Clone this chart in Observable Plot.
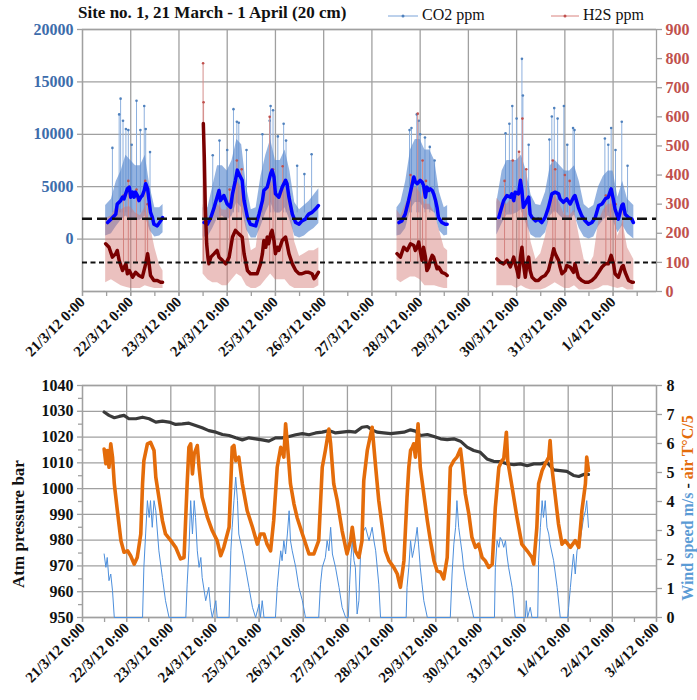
<!DOCTYPE html>
<html><head><meta charset="utf-8">
<script src="https://cdn.jsdelivr.net/npm/d3@7"></script>
<script src="https://cdn.jsdelivr.net/npm/@observablehq/plot@0.6"></script>
<style>
body{margin:0;background:#fff;}
#wrap{position:relative;width:697px;height:700px;font-family:'Liberation Serif',serif;overflow:hidden;background:#fff;}
#wrap svg, #wrap svg text{font-family:'Liberation Serif',serif !important;}
.t{position:absolute;white-space:nowrap;color:#111;}
</style></head><body><div id="wrap"></div>
<script>
// ---- DATA (time = days after 21/3/2012 0:00) ----
const co2Ticks = [0, 5000, 10000, 15000, 20000];
const h2sTicks = [0, 100, 200, 300, 400, 500, 600, 700, 800, 900];
const presTicks = [950, 960, 970, 980, 990, 1000, 1010, 1020, 1030, 1040];
const rightTicks = [0, 1, 2, 3, 4, 5, 6, 7, 8];
const h2sThresholds = [250, 100];

const co2Smooth = [
 [[0.52,1580],[0.59,1900],[0.66,2220],[0.69,2380],[0.72,3350],[0.79,3670],[0.83,4000],[0.86,3840],[0.93,4800],[0.97,4960],[1.00,4000],[1.04,4480],[1.07,4000],[1.10,4480],[1.14,4160],[1.17,3670],[1.21,4000],[1.24,4160],[1.28,4640],[1.31,5290],[1.35,4800],[1.38,3670],[1.41,2550],[1.45,2060],[1.48,1420],[1.55,1260],[1.62,1740],[1.66,2060]],
 [[2.52,1580],[2.59,1420],[2.66,2060],[2.73,3030],[2.79,4000],[2.83,4640],[2.86,3670],[2.93,4160],[3.00,3350],[3.07,3030],[3.11,4320],[3.17,5610],[3.21,6580],[3.24,6250],[3.31,5610],[3.35,3670],[3.42,2060],[3.48,1420],[3.59,1260],[3.66,2380],[3.73,3670],[3.76,4640],[3.83,4960],[3.90,6250],[3.93,6580],[3.97,5930],[4.00,4320],[4.07,4000],[4.14,4960],[4.21,5610],[4.24,5290],[4.28,4000],[4.35,2380],[4.42,1580],[4.49,1420],[4.55,1740],[4.62,1900],[4.66,2220],[4.69,2380],[4.76,2550],[4.83,2870],[4.89,3190]],
 [[6.56,1580],[6.62,1740],[6.69,2380],[6.76,3670],[6.83,5130],[6.87,5930],[6.90,5450],[6.94,5290],[6.97,5450],[7.00,5610],[7.04,5450],[7.07,5130],[7.11,4000],[7.14,4960],[7.18,4640],[7.21,4800],[7.25,4640],[7.28,4320],[7.32,3670],[7.35,3030],[7.38,2060],[7.45,1580],[7.52,1420],[7.56,1420]],
 [[8.63,2060],[8.66,2550],[8.73,3670],[8.80,4160],[8.87,4000],[8.90,4320],[8.94,3670],[8.97,4480],[9.04,4320],[9.08,5610],[9.11,4640],[9.14,3030],[9.18,3350],[9.21,3670],[9.25,4000],[9.28,2380],[9.32,2060],[9.39,1740],[9.45,1900],[9.52,1580],[9.59,2060],[9.66,3030],[9.73,4320],[9.80,4480],[9.87,4320],[9.90,3840],[9.97,3510],[10.04,3840],[10.11,3350],[10.18,4000],[10.21,4160],[10.28,3030],[10.35,2220],[10.42,1740],[10.49,1420],[10.56,1580],[10.63,2060],[10.70,3190],[10.77,3350],[10.84,3840],[10.90,4000],[10.96,4800],[11.01,3670],[11.04,2870],[11.11,1900],[11.18,3190],[11.21,3350],[11.25,2380],[11.32,2060],[11.39,1900],[11.42,1580]]
];

const h2sSmooth = [
 [[0.48,164],[0.55,152],[0.62,118],[0.69,130],[0.72,141],[0.76,107],[0.83,72],[0.90,95],[0.93,61],[0.97,72],[1.04,49],[1.10,66],[1.17,55],[1.24,49],[1.31,95],[1.35,130],[1.38,95],[1.41,55],[1.48,38],[1.55,38],[1.62,32],[1.66,32]],
 [[2.505,577],[2.525,462],[2.546,290],[2.574,164],[2.60,118],[2.62,95],[2.66,118],[2.73,130],[2.79,141],[2.83,118],[2.90,107],[2.97,95],[3.04,118],[3.11,187],[3.17,210],[3.24,198],[3.31,187],[3.35,130],[3.42,72],[3.48,61],[3.55,61],[3.62,61],[3.69,95],[3.73,130],[3.76,175],[3.80,152],[3.83,187],[3.86,164],[3.90,198],[3.93,210],[3.97,175],[4.00,130],[4.04,152],[4.07,141],[4.14,175],[4.21,187],[4.24,164],[4.28,130],[4.35,95],[4.42,72],[4.49,61],[4.55,61],[4.62,66],[4.69,66],[4.76,61],[4.80,44],[4.83,49],[4.89,66]],
 [[6.52,130],[6.59,118],[6.66,152],[6.73,141],[6.80,164],[6.87,158],[6.90,141],[6.94,152],[6.97,170],[7.00,141],[7.04,107],[7.07,152],[7.11,118],[7.14,72],[7.18,84],[7.21,107],[7.25,124],[7.28,118],[7.32,95],[7.35,78],[7.38,84],[7.45,66],[7.52,61],[7.56,55]],
 [[8.59,112],[8.66,101],[8.73,95],[8.80,107],[8.87,84],[8.94,118],[8.97,95],[9.01,72],[9.04,49],[9.08,118],[9.11,152],[9.14,95],[9.18,49],[9.21,89],[9.25,118],[9.28,72],[9.32,49],[9.39,38],[9.45,38],[9.52,49],[9.59,55],[9.66,72],[9.73,118],[9.77,147],[9.80,130],[9.87,107],[9.90,84],[9.94,61],[10.01,72],[10.04,89],[10.11,84],[10.18,66],[10.21,95],[10.28,49],[10.35,38],[10.42,32],[10.49,32],[10.56,38],[10.63,49],[10.70,66],[10.77,84],[10.84,95],[10.90,95],[10.96,124],[11.01,95],[11.04,61],[11.11,49],[11.18,84],[11.21,89],[11.25,66],[11.32,38],[11.39,32],[11.42,32]]
];

// raw-reading envelopes (dense band of individual readings)
const bandDays = [
 [0.48,0.6,0.7,0.8,0.9,1.0,1.1,1.2,1.3,1.4,1.5,1.6,1.67],
 [2.50,2.6,2.7,2.8,2.9,3.0,3.1,3.2,3.3,3.4,3.5,3.6,3.7,3.8,3.9,4.0,4.1,4.2,4.3,4.4,4.5,4.6,4.7,4.8,4.9],
 [6.52,6.6,6.7,6.8,6.9,7.0,7.1,7.2,7.3,7.4,7.5,7.57],
 [8.59,8.7,8.8,8.9,9.0,9.1,9.2,9.3,9.4,9.5,9.6,9.7,9.8,9.9,10.0,10.1,10.2,10.3,10.4,10.5,10.6,10.7,10.8,10.9,11.0,11.1,11.2,11.3,11.43]
];
const co2Lo = [
 [300,500,1200,1800,2200,1800,1800,1800,2200,800,200,300,600],
 [200,200,1000,2000,2200,1800,2200,3500,3000,900,100,100,1200,2500,3500,2500,2500,3000,1800,300,100,300,700,1000,1500],
 [300,400,1000,2800,3500,3500,2800,2800,2500,800,300,400],
 [400,1500,2300,2300,2500,2800,1500,400,100,100,600,2200,2700,2200,1800,1800,2300,1000,200,0,200,1200,1800,2200,1800,600,1300,500,0]
];
const co2Hi = [
 [3200,3800,5500,6500,8000,7500,7000,7000,8000,5000,3000,3000,3300],
 [3000,3000,5000,7000,7000,6500,7500,9500,9000,5000,2800,3000,6000,8000,9500,7500,7500,8500,6500,3500,2800,3200,3600,4200,4800],
 [3000,3500,5500,8500,9500,9500,8500,8500,7500,4500,3000,3200],
 [3500,6500,7500,7500,7500,8000,6500,4200,3300,3200,4500,7000,7500,7000,6500,6500,7000,5500,3300,2900,3200,5000,6000,6500,6500,4000,5500,3800,3200]
];
const h2sLo = [
 [30,40,30,20,15,10,10,10,20,15,10,10,10],
 [60,40,30,30,20,20,40,60,50,20,10,10,20,40,60,40,40,40,20,10,10,10,10,10,20],
 [40,30,40,50,50,40,20,20,20,15,10,10],
 [20,20,20,20,10,20,10,5,5,5,10,20,30,20,10,10,20,5,5,5,5,10,20,20,15,10,15,5,5]
];
const h2sHi = [
 [250,260,290,280,290,290,270,260,290,230,150,90,70],
 [300,240,260,300,280,280,340,380,360,230,140,150,280,340,390,340,330,360,300,170,120,130,140,140,150],
 [280,260,300,340,360,340,300,300,270,210,150,140],
 [320,300,300,320,340,360,290,170,110,130,190,300,330,300,260,260,280,190,110,90,120,240,280,300,300,190,240,150,110]
];
const co2Spikes = [[0.62,8700],[0.76,11900],[0.79,13400],[0.84,11300],[0.90,10500],[0.95,10400],[1.02,9000],[1.12,13200],[1.20,10400],[1.28,12700],[1.31,10500],[1.40,8300],
 [2.70,8000],[2.84,9400],[3.00,8500],[3.13,12400],[3.20,11200],[3.24,11100],[3.40,8500],[3.73,10000],[3.88,11300],[3.90,12700],[3.95,12300],[4.05,9800],[4.17,11000],[4.22,9400],[4.45,7000],[4.60,6200],[4.75,8100],
 [6.78,10400],[6.82,10600],[6.93,11900],[6.97,11300],[7.00,10000],[7.10,9700],[7.20,8800],[7.30,7500],
 [8.77,10100],[8.85,11000],[8.91,12700],[9.00,11500],[9.11,17200],[9.13,13700],[9.25,9000],[9.68,9500],[9.73,11700],[9.78,12500],[9.85,11500],[9.98,12700],[10.05,9000],[10.17,10600],[10.20,10400],[10.83,9600],[10.90,9000],[10.96,10600],[11.05,8500],[11.18,11200],[11.30,7000]];
const h2sSpikes = [[0.85,330],[0.95,380],[1.12,350],[1.30,380],[1.35,300],[2.50,784],[2.51,650],[2.85,330],[3.05,350],[3.20,450],[3.30,420],[3.88,600],[3.95,420],[4.15,430],
 [6.80,400],[6.95,611],[7.05,450],[7.12,380],[8.75,380],[8.92,450],[9.05,480],[9.12,594],[9.20,420],[9.75,450],[9.80,420],[10.00,400],[10.10,380],[10.85,330],[10.95,350],[11.05,300],[11.20,300]];

const pressure = [[0.49,1029.7],[0.60,1028.4],[0.72,1027.5],[0.83,1028.0],[0.94,1028.4],[1.05,1027.1],[1.21,1027.1],[1.36,1027.7],[1.51,1027.1],[1.66,1025.8],[1.81,1026.2],[1.96,1025.8],[2.11,1024.9],[2.26,1025.1],[2.41,1025.4],[2.56,1024.5],[2.71,1023.6],[2.86,1022.5],[3.02,1021.9],[3.17,1021.0],[3.32,1020.6],[3.47,1019.7],[3.62,1018.9],[3.77,1019.7],[3.92,1019.3],[4.07,1018.9],[4.22,1018.4],[4.37,1019.7],[4.52,1019.7],[4.68,1020.2],[4.83,1020.9],[4.98,1021.3],[5.13,1020.9],[5.28,1021.6],[5.43,1021.9],[5.58,1022.5],[5.73,1021.6],[5.88,1021.9],[6.03,1022.2],[6.18,1021.9],[6.33,1023.8],[6.45,1024.1],[6.56,1022.8],[6.67,1021.9],[6.82,1021.6],[6.98,1021.3],[7.13,1021.6],[7.28,1021.9],[7.43,1022.8],[7.54,1022.3],[7.65,1020.6],[7.81,1021.0],[7.96,1020.2],[8.11,1019.3],[8.26,1019.0],[8.41,1019.3],[8.56,1018.4],[8.71,1016.1],[8.86,1014.8],[9.01,1014.1],[9.16,1011.5],[9.31,1010.6],[9.46,1010.5],[9.61,1009.6],[9.77,1009.3],[9.92,1009.6],[10.07,1008.9],[10.22,1009.6],[10.37,1009.6],[10.52,1010.2],[10.67,1007.3],[10.82,1007.0],[10.97,1006.7],[11.12,1005.1],[11.24,1004.7],[11.35,1005.5],[11.46,1005.5]];

const airT5 = [[0.49,5.81],[0.53,5.30],[0.56,5.76],[0.60,5.18],[0.64,5.99],[0.68,5.53],[0.72,4.61],[0.79,3.68],[0.87,2.65],[0.94,2.25],[1.02,2.30],[1.09,2.13],[1.17,1.84],[1.24,2.07],[1.32,2.88],[1.36,4.61],[1.39,5.41],[1.47,5.99],[1.54,6.04],[1.62,5.76],[1.66,4.84],[1.73,4.15],[1.81,3.34],[1.88,2.88],[2.00,2.65],[2.11,2.42],[2.22,2.02],[2.30,2.07],[2.37,4.61],[2.41,5.87],[2.45,5.99],[2.49,4.95],[2.53,5.64],[2.60,5.93],[2.64,5.18],[2.71,4.15],[2.83,3.45],[2.94,2.99],[3.05,2.65],[3.13,2.13],[3.20,2.42],[3.32,3.11],[3.39,5.87],[3.43,5.93],[3.47,5.41],[3.54,5.53],[3.62,4.61],[3.73,3.68],[3.85,3.11],[3.96,2.53],[4.03,2.88],[4.11,2.88],[4.18,2.53],[4.26,2.30],[4.33,3.34],[4.41,5.18],[4.49,5.87],[4.56,5.53],[4.60,6.68],[4.64,5.99],[4.71,4.61],[4.79,3.91],[4.86,3.45],[4.98,2.88],[5.13,2.19],[5.24,2.19],[5.35,2.65],[5.43,5.18],[5.50,5.76],[5.58,6.50],[5.62,5.99],[5.69,4.61],[5.77,4.03],[5.88,2.99],[5.99,2.19],[6.07,2.65],[6.11,3.11],[6.18,2.30],[6.26,2.07],[6.33,2.65],[6.37,4.72],[6.45,5.76],[6.56,6.56],[6.64,5.18],
 [6.71,4.03],[6.79,3.11],[6.86,2.30],[6.94,1.96],[7.05,1.73],[7.13,1.50],[7.20,1.04],[7.28,1.96],[7.35,4.15],[7.39,5.18],[7.43,5.76],[7.47,5.87],[7.50,5.99],[7.54,5.53],[7.58,6.22],[7.60,6.68],[7.65,5.18],[7.73,4.26],[7.81,3.34],[7.88,2.65],[7.96,1.96],[8.03,1.61],[8.11,1.56],[8.18,1.33],[8.26,2.07],[8.33,5.18],[8.41,5.41],[8.48,5.53],[8.56,5.81],[8.60,5.30],[8.67,4.26],[8.75,3.57],[8.82,2.76],[8.90,2.42],[8.97,2.53],[9.05,2.07],[9.12,1.96],[9.20,1.73],[9.28,1.84],[9.35,3.80],[9.43,5.18],[9.50,5.41],[9.54,5.47],[9.60,6.39],[9.63,5.41],[9.73,4.49],[9.84,3.45],[9.95,2.53],[10.07,2.30],[10.18,2.07],[10.22,1.84],[10.29,3.11],[10.33,4.61],[10.41,5.07],[10.48,5.30],[10.56,5.53],[10.59,6.10],[10.63,5.18],[10.71,4.15],[10.78,3.23],[10.86,2.53],[10.93,2.65],[11.05,2.42],[11.16,2.65],[11.24,2.42],[11.31,3.68],[11.39,4.61],[11.42,5.53],[11.46,5.07]];

const windSpeed = [[0.49,2.19],[0.53,1.73],[0.56,2.07],[0.60,1.27],[0.64,1.50],[0.68,0.92],[0.72,0],[1.36,0],[1.39,1.73],[1.43,2.88],[1.47,4.03],[1.51,3.45],[1.54,4.03],[1.58,3.11],[1.62,4.03],[1.66,3.68],[1.70,2.88],[1.73,2.30],[1.81,1.38],[1.88,0.58],[1.96,0],[2.34,0],[2.37,1.15],[2.41,2.30],[2.45,4.03],[2.49,2.88],[2.53,4.03],[2.56,3.45],[2.60,2.30],[2.64,1.73],[2.68,2.07],[2.71,1.38],[2.79,0.58],[2.86,1.04],[2.90,0.35],[2.94,0],[3.02,0.58],[3.05,0],[3.32,0],[3.36,2.30],[3.39,3.11],[3.43,4.03],[3.47,4.84],[3.51,4.03],[3.54,2.88],[3.62,2.30],[3.69,1.73],[3.77,1.04],[3.85,0.35],[3.92,0],[4.00,0.46],[4.03,0],[4.07,0.58],[4.11,0],[4.37,0],[4.41,1.04],[4.45,1.73],[4.49,2.30],[4.52,1.96],[4.56,2.65],[4.60,2.19],[4.64,2.88],[4.68,3.68],[4.71,2.65],[4.75,2.30],[4.83,1.73],[4.90,1.04],[4.98,0.58],[5.05,0],[5.35,0],[5.39,1.15],[5.43,1.73],[5.50,2.07],[5.54,2.65],[5.58,2.30],[5.62,3.11],[5.66,2.19],[5.73,1.73],[5.81,1.04],[5.88,0.35],[5.96,0],[6.02,0],[6.05,1.15],[6.08,2.07],[6.11,2.65],[6.15,1.96],[6.18,1.73],[6.22,0.12],[6.26,0.58],[6.30,2.30],[6.33,2.88],[6.41,3.11],[6.49,2.65],[6.56,3.11],[6.60,2.65],[6.64,2.30],[6.71,1.15],[6.75,0],[7.33,0],[7.35,1.04],[7.39,1.73],[7.43,2.65],[7.47,2.07],[7.50,2.30],[7.54,2.65],[7.58,3.11],[7.61,2.53],[7.65,1.73],[7.69,1.15],[7.73,0.58],[7.81,0],[8.33,0],[8.37,1.50],[8.41,2.53],[8.45,3.11],[8.48,4.03],[8.52,3.11],[8.56,2.65],[8.60,2.19],[8.63,1.73],[8.71,1.04],[8.78,0.58],[8.86,0],[9.33,0],[9.35,1.73],[9.39,2.65],[9.43,2.42],[9.46,2.76],[9.50,2.65],[9.54,2.42],[9.58,2.65],[9.61,2.19],[9.65,1.73],[9.73,1.04],[9.80,0],[10.03,0],[10.05,0.58],[10.08,0],[10.14,0.35],[10.18,0],[10.31,0],[10.33,1.96],[10.37,3.11],[10.41,4.03],[10.44,3.45],[10.48,4.03],[10.52,3.11],[10.56,2.88],[10.59,2.53],[10.67,1.96],[10.75,1.04],[10.82,0],[10.99,0],[11.01,0.35],[11.05,1.04],[11.09,1.73],[11.12,2.19],[11.16,1.50],[11.20,2.30],[11.27,2.65],[11.35,3.45],[11.39,3.68],[11.42,4.03],[11.46,3.11]];

// ---- helpers ----
const t0 = Date.UTC(2012, 2, 21);
const day = d => new Date(t0 + d * 864e5);
const fmtDay = d => `${d.getUTCDate()}/${d.getUTCMonth() + 1}/12 0:00`;
const topDays = d3.range(0, 12).map(day);
const topHalf = d3.range(0, 11.9, 0.5).map(day);
const botDays = d3.range(0, 14).map(day);
const botHalf = d3.range(0, 13.01, 0.5).map(day);

const segRows = arr => arr.flatMap((seg, i) => seg.map(([d, v]) => ({t: day(d), v, s: i})));
const co2Rows = segRows(co2Smooth);
const h2sRows = segRows(h2sSmooth);
const bandRows = bandDays.flatMap((ds, i) => ds.map((d, j) => ({t: day(d), lo: co2Lo[i][j], hi: co2Hi[i][j], hlo: h2sLo[i][j], hhi: h2sHi[i][j], s: i})));
const co2SpikeRows = co2Spikes.map(([d, v]) => ({t: day(d), v}));
const h2sSpikeRows = h2sSpikes.map(([d, v]) => ({t: day(d), v}));
const presRows = pressure.map(([d, v]) => ({t: day(d), v}));
const tempRows = airT5.map(([d, v]) => ({t: day(d), v}));
const windRows = windSpeed.map(([d, v]) => ({t: day(d), v}));

const wrap = document.getElementById("wrap");
const FONT = "'Liberation Serif', serif";
const absStyle = {position: "absolute", left: "0px", top: "0px", background: "transparent", fontFamily: FONT, overflow: "visible"};
const GRID = "#a0a0a0";
const topCfg = {width: 697, height: 380, marginLeft: 82, marginRight: 41, marginTop: 29, marginBottom: 89, style: absStyle};
const topXs = {type: "utc", domain: [day(0), day(11.9)]};
const botCfg = {width: 697, height: 700, marginLeft: 82, marginRight: 41, marginTop: 385, marginBottom: 83, style: absStyle};
const botXs = {type: "utc", domain: [day(0), day(13)]};
const add = p => wrap.appendChild(p);

const xAxes = (days, half) => [
  Plot.axisX(half, {anchor: "bottom", tickSize: 5, stroke: GRID, strokeWidth: 1.3, tickFormat: () => "", label: null}),
  Plot.axisX(days, {anchor: "bottom", tickSize: 5, stroke: GRID, strokeWidth: 1.3, tickRotate: -45, tickPadding: 3, tickFormat: fmtDay, fontSize: 15, fontWeight: "bold", fontFamily: FONT, fill: "#111", label: null})
];

// ---- TOP PANEL ----
add(Plot.plot({...topCfg, x: topXs, y: {domain: [-5000, 20000]},
  marks: [
    Plot.gridX(topDays, {stroke: GRID, strokeOpacity: 1, strokeWidth: 1.3}),
    Plot.gridY([-5000, ...co2Ticks], {stroke: GRID, strokeOpacity: 1, strokeWidth: 1.3}),
    Plot.frame({stroke: GRID, strokeWidth: 1.3}),
    Plot.axisY(co2Ticks, {anchor: "left", tickSize: 5, tickPadding: 4, stroke: GRID, strokeWidth: 1.3, fill: "#3d6cab", fontSize: 16, fontWeight: "bold", fontFamily: FONT, tickFormat: d => String(d), label: null}),
    ...xAxes(topDays, topHalf),
    Plot.ruleX(co2SpikeRows, {x: "t", y1: 2500, y2: "v", stroke: "#8db0de", strokeWidth: 1}),
    Plot.dot(co2SpikeRows, {x: "t", y: "v", r: 1.3, fill: "#4f81bd", stroke: null}),
    Plot.areaY(bandRows, {x: "t", y1: "lo", y2: "hi", z: "s", fill: "#5a8bcf", fillOpacity: 0.65})
  ]}));

add(Plot.plot({...topCfg, x: {...topXs, axis: null}, y: {domain: [0, 900], axis: null},
  marks: [
    Plot.ruleX(h2sSpikeRows, {x: "t", y1: 100, y2: "v", stroke: "#d58e8b", strokeWidth: 1}),
    Plot.dot(h2sSpikeRows, {x: "t", y: "v", r: 1.3, fill: "#c0504d", stroke: null}),
    Plot.areaY(bandRows, {x: "t", y1: "hlo", y2: "hhi", z: "s", fill: "#d27672", fillOpacity: 0.45})
  ]}));

add(Plot.plot({...topCfg, x: {...topXs, axis: null}, y: {domain: [-5000, 20000], axis: null},
  marks: [
    Plot.line(co2Rows, {x: "t", y: "v", z: "s", stroke: "#0000ff", strokeWidth: 3.5, strokeLinejoin: "round"})
  ]}));

add(Plot.plot({...topCfg, x: {...topXs, axis: null}, y: {domain: [0, 900]},
  marks: [
    Plot.line(h2sRows, {x: "t", y: "v", z: "s", stroke: "#7a0000", strokeWidth: 3.5, strokeLinejoin: "round"}),
    Plot.ruleY([h2sThresholds[0]], {stroke: "#111", strokeWidth: 2.6, strokeDasharray: "10,5"}),
    Plot.ruleY([h2sThresholds[1]], {stroke: "#111", strokeWidth: 2, strokeDasharray: "5,3.5"}),
    Plot.axisY(h2sTicks, {anchor: "right", tickSize: 5, tickPadding: 4, stroke: GRID, strokeWidth: 1.3, fill: "#c0504d", fontSize: 16, fontWeight: "bold", fontFamily: FONT, tickFormat: d => String(d), label: null})
  ]}));

// ---- BOTTOM PANEL ----
add(Plot.plot({...botCfg, x: botXs, y: {domain: [950, 1040]},
  marks: [
    Plot.gridX(botDays, {stroke: GRID, strokeOpacity: 1, strokeWidth: 1.3}),
    Plot.gridY(presTicks, {stroke: GRID, strokeOpacity: 1, strokeWidth: 1.3}),
    Plot.frame({stroke: GRID, strokeWidth: 1.3}),
    Plot.axisY(d3.range(955, 1040, 10), {anchor: "left", tickSize: 4, stroke: GRID, strokeWidth: 1.3, tickFormat: () => "", label: null}),
    Plot.axisY(presTicks, {anchor: "left", tickSize: 5, tickPadding: 4, stroke: GRID, strokeWidth: 1.3, fill: "#111", fontSize: 16, fontWeight: "bold", fontFamily: FONT, tickFormat: d => String(d), label: null}),
    ...xAxes(botDays, botHalf),
    Plot.line(presRows, {x: "t", y: "v", stroke: "#3a3a3a", strokeWidth: 3.2, strokeLinejoin: "round"})
  ]}));

add(Plot.plot({...botCfg, x: {...botXs, axis: null}, y: {domain: [0, 8]},
  marks: [
    Plot.line(windRows, {x: "t", y: "v", stroke: "#4d8fdc", strokeWidth: 1}),
    Plot.line(tempRows, {x: "t", y: "v", stroke: "#e46c0a", strokeWidth: 3.6, strokeLinejoin: "round"}),
    Plot.axisY(rightTicks, {anchor: "right", tickSize: 5, tickPadding: 5, stroke: GRID, strokeWidth: 1.3, fill: "#111", fontSize: 16, fontWeight: "bold", fontFamily: FONT, tickFormat: d => String(d), label: null})
  ]}));

// ---- TEXT: title, legend, axis titles ----
const txt = (html, css) => { const e = document.createElement("div"); e.className = "t"; e.innerHTML = html; Object.assign(e.style, css); wrap.appendChild(e); };
txt("Site no. 1, 21 March - 1 April (20 cm)", {left: "78px", top: "3px", fontSize: "17px", fontWeight: "bold", lineHeight: "20px"});
txt('<svg width="30" height="10" style="vertical-align:middle"><line x1="0" x2="30" y1="5" y2="5" stroke="#7aa3d8" stroke-width="1"/><circle cx="15" cy="5" r="1.5" fill="#4f81bd"/></svg> CO2 ppm', {left: "388px", top: "5px", fontSize: "16px", lineHeight: "20px"});
txt('<svg width="28" height="10" style="vertical-align:middle"><line x1="0" x2="28" y1="5" y2="5" stroke="#d9827f" stroke-width="1"/><circle cx="14" cy="5" r="1.5" fill="#c0504d"/></svg> H2S ppm', {left: "551px", top: "5px", fontSize: "16px", lineHeight: "20px"});
txt("Atm pressure bar", {left: "19px", top: "524px", fontSize: "17px", fontWeight: "bold", transform: "translate(-50%,-50%) rotate(-90deg)"});
txt('<span style="color:#5b9bd5">Wind speed m/s</span> - <span style="color:#e46c0a">air T°C/5</span>', {left: "688px", top: "508px", fontSize: "16px", fontWeight: "bold", transform: "translate(-50%,-50%) rotate(-90deg)"});
</script></body></html>
